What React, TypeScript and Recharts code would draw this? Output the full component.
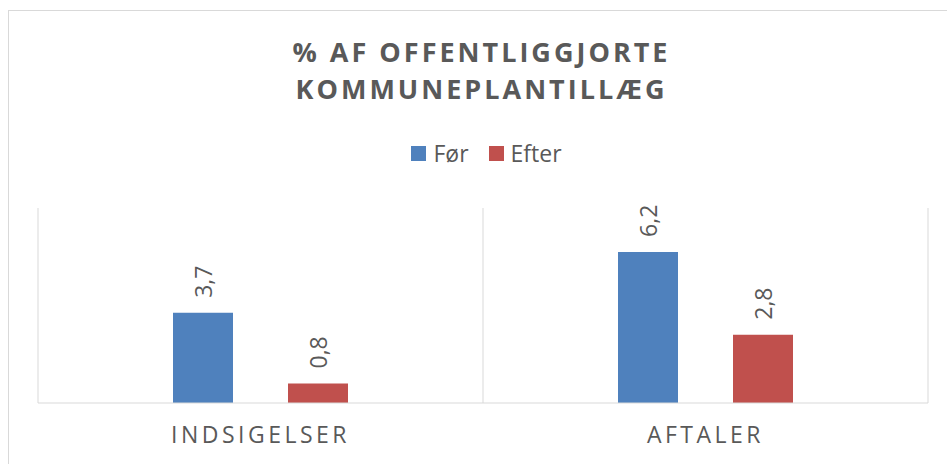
import { BarChart, Bar, XAxis, YAxis, CartesianGrid, LabelList } from "recharts";

const categories = ["INDSIGELSER", "AFTALER"];
const foerValues = [3.7, 6.2];
const efterValues = [0.8, 2.8];
const seriesNames = ["Før", "Efter"];
const titleLines = ["% AF OFFENTLIGGJORTE", "KOMMUNEPLANTILLÆG"];

const data = categories.map((c, i) => ({
  name: c,
  foer: foerValues[i],
  efter: efterValues[i]
}));

const FONT = "'Open Sans', 'Noto Sans', sans-serif";
const TEXT = "#595959";
const COLORS = ["#4F81BD", "#C0504D"];

// rotated value labels, reading bottom-to-top above each bar
const RotatedLabel = (props: any) => {
  const { x, y, width, value } = props;
  const cx = x + width / 2;
  const cy = y - 15;
  return (
    <text
      x={cx}
      y={cy}
      transform={`rotate(-90, ${cx}, ${cy})`}
      textAnchor="start"
      dominantBaseline="central"
      fill={TEXT}
      fontSize={23}
      fontFamily={FONT}
    >
      {String(value).replace(".", ",")}
    </text>
  );
};

export default function App() {
  return (
    <div style={{ position: "fixed", left: 0, top: 0, width: 947, height: 464, overflow: "hidden", background: "#fff" }}>
      <div
        style={{
          position: "absolute",
          left: 8,
          top: 10,
          width: 960,
          height: 480,
          border: "1px solid #d9d9d9"
        }}
      />
      <div
        style={{
          position: "absolute",
          left: 8,
          top: 33,
          width: 947,
          textAlign: "center",
          fontFamily: FONT,
          fontWeight: 700,
          fontSize: 27,
          letterSpacing: 3,
          lineHeight: "37px",
          color: TEXT
        }}
      >
        {titleLines.map((l) => (
          <div key={l}>{l}</div>
        ))}
      </div>
      {/* legend */}
      <div
        style={{
          position: "absolute",
          left: 13,
          top: 137,
          width: 947,
          display: "flex",
          justifyContent: "center",
          fontFamily: FONT
        }}
      >
        {seriesNames.map((n, i) => (
          <div key={n} style={{ display: "flex", alignItems: "center", marginRight: i === 0 ? 20 : 0 }}>
            <span style={{ width: 15, height: 15, background: COLORS[i], display: "inline-block", marginRight: 7 }} />
            <span style={{ color: TEXT, fontSize: 23 }}>{n}</span>
          </div>
        ))}
      </div>
      <div style={{ position: "absolute", left: 0, top: 0 }}>
        <BarChart
          width={947}
          height={464}
          data={data}
          margin={{ top: 208, right: 19, bottom: 0, left: 38 }}
          barSize={60}
          barGap={55}
        >
          <CartesianGrid
            horizontal={false}
            stroke="#d9d9d9"
            verticalCoordinatesGenerator={({ offset }: any) =>
              Array.from({ length: categories.length + 1 }, (_, i) => offset.left + (offset.width * i) / categories.length)
            }
          />
          <XAxis
            dataKey="name"
            height={61}
            axisLine={{ stroke: "#d9d9d9" }}
            tickLine={false}
            tick={{ fill: TEXT, fontSize: 23, fontFamily: FONT, letterSpacing: 3.5 }}
            tickMargin={18}
          />
          <YAxis hide domain={[0, 8]} />
          <Bar dataKey="foer" name={seriesNames[0]} fill={COLORS[0]} isAnimationActive={false}>
            <LabelList dataKey="foer" content={<RotatedLabel />} />
          </Bar>
          <Bar dataKey="efter" name={seriesNames[1]} fill={COLORS[1]} isAnimationActive={false}>
            <LabelList dataKey="efter" content={<RotatedLabel />} />
          </Bar>
        </BarChart>
      </div>
    </div>
  );
}
